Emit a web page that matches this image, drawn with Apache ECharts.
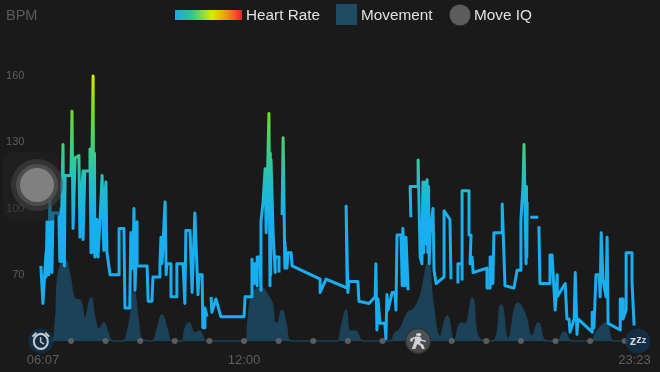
<!DOCTYPE html>
<html>
<head>
<meta charset="utf-8">
<style>
html,body{margin:0;padding:0;background:#1a1a1a;}
#main{width:660px;height:372px;}
</style>
<script src="https://cdn.jsdelivr.net/npm/echarts@6/dist/echarts.min.js"></script>
</head>
<body>
<div id="main"></div>
<script>
// heart rate samples, hours of the day / bpm, null = gap in the recording
var hrTimes = [
    6.13,6.19,6.28,6.28,6.31,6.36,6.39,6.45,6.48,6.65,6.68,6.71,6.73,6.74,6.77,6.79,6.80,6.81,6.83,7.00,7.03,7.06,7.12,7.23,
    7.26,7.29,7.35,7.35,7.40,7.55,7.55,7.58,7.61,7.64,7.66,7.68,7.69,7.75,7.78,7.84,7.90,7.95,7.98,8.01,8.04,8.13,8.39,
    8.39,8.53,8.56,8.70,8.73,8.79,8.79,8.82,8.85,8.91,8.91,9.20,9.23,9.34,9.37,9.57,9.57,9.60,9.63,9.72,
    9.75,9.77,9.89,9.89,10.06,10.06,10.24,10.29,10.32,10.44,10.50,10.58,10.67,10.70,10.79,10.81,10.87,10.87,10.93,10.99,
    11.05,11.07,11.19,11.33,12.00,12.03,12.23,12.23,12.29,12.32,12.38,12.38,12.46,12.49,12.49,12.55,12.61,12.64,12.72,12.75,
    12.76,12.77,12.78,12.84,12.90,12.90,13.01,13.01,13.05,
    13.10,13.13,13.16,13.18,13.18,13.24,13.27,13.36,13.39,14.20,14.20,14.37,14.98,14.95,15.00,15.03,15.29,15.32,15.61,15.79,
    15.81,15.84,15.87,15.93,16.07,16.10,16.13,16.16,16.28,16.36,16.39,16.42,16.54,16.57,16.59,16.65,16.68,16.74,16.78,
    16.82,16.80,17.03,17.03,17.09,17.14,17.17,17.19,17.21,17.23,17.29,17.31,17.33,17.35,17.38,17.46,17.49,17.55,17.78,17.78,17.95,17.98,18.08,
    18.18,18.18,18.30,18.30,18.30,18.50,18.50,18.56,18.53,18.59,18.62,19.02,19.02,19.11,19.11,19.19,19.19,19.22,19.46,19.46,
    19.54,19.80,19.89,20.00,20.00,20.06,20.09,20.15,20.16,20.17,20.18,20.22,
    20.27,20.50,20.51,
    20.52,20.55,20.84,20.84,20.90,20.99,21.05,21.05,21.28,21.33,21.39,21.42,21.54,21.57,21.62,21.65,22.06,22.06,22.11,22.11,
    22.17,22.26,22.29,22.32,22.37,22.37,22.46,22.49,22.52,22.87,22.87,22.95,22.95,23.04,23.04,23.21,23.21,23.27
];
var hrValues = [
    74,57,80,69,94,70,105,71,98,98,76,100,76,108,129,76,110,74,115,115,144,91,123,124,
    87,104,117,86,117,117,127,80,127,160,80,125,78,95,78,95,115,81,106,112,80,70,70,
    91,91,55,55,89,89,73,100,63,94,74,74,58,58,69,69,74,87,75,103,
    70,75,75,60,60,75,75,57,90,90,62,98,61,70,70,46,46,55,51,null,
    60,53,59,51,51,60,60,77,66,75,65,78,78,63,94,103,118,89,143,65,
    125,70,122,89,71,78,78,71,null,
    97,132,97,73,85,73,80,80,74,68,62,68,64,101,62,67,67,58,57,60,
    75,45,59,48,48,41,61,54,62,62,54,88,88,65,91,65,87,63,null,
    96,110,110,122,78,75,112,80,112,84,113,80,110,75,89,100,72,66,69,99,95,68,null,
    66,75,75,68,108,108,88,88,75,78,71,73,64,64,78,78,66,89,89,102,
    65,64,72,72,95,110,129,75,110,78,103,null,
    96,96,null,
    92,66,66,79,79,54,70,60,66,50,50,44,50,71,43,50,44,53,53,46,
    70,70,60,89,89,68,60,87,48,45,59,59,50,54,80,80,67,47
];

// movement, same clock, arbitrary activity units
var moveTimes = [
    6.10,6.39,6.54,6.62,6.83,6.97,7.12,7.26,7.40,7.58,7.69,7.81,7.95,8.07,8.21,8.50,8.62,8.73,8.82,8.94,
    9.05,9.34,9.49,9.63,9.77,9.92,10.21,10.29,10.41,10.58,10.70,10.93,12.03,12.12,12.23,12.52,12.66,12.81,12.90,12.95,
    13.10,13.21,13.36,14.69,14.80,14.95,15.06,15.21,15.44,16.22,16.36,16.51,16.74,16.88,17.09,17.32,17.46,17.66,17.87,18.07,
    18.27,18.39,18.59,18.82,19.19,19.43,19.63,19.92,20.12,20.32,20.50,20.73,21.05,21.25,21.48,22.00,22.20,22.46,22.69,23.38
];
var moveValues = [
    0,0,15,65,81,65,42,41,23,43,23,12,18,8,0,0,8,28,50,22,
    2,0,12,26,13,0,0,12,18,8,10,0,0,22,48,53,47,38,18,18,
    31,18,0,0,12,31,10,10,0,0,8,12,29,31,45,78,38,5,25,0,
    18,17,43,2,0,36,2,38,27,5,18,0,0,9,0,0,10,18,0,0
];

var hourDots = [7,8,9,10,11,12,13,14,15,16,17,18,19,20,21,22,23];
var tickTimes = [6.19,12,23.28];
var tickLabels = ['06:07','12:00','23:23'];
var yTicks = [70,100,130,160];
var wakeTime = 6.13, moveIqTime = 17.03, sleepTime = 23.38;

var clockPath = 'path://M12 4a8 8 0 1 0 0 16a8 8 0 1 0 0-16zM12 6a6 6 0 1 1 0 12a6 6 0 1 1 0-12zM11 8h1.5v4.2l3 1.8-.7 1.1-3.8-2.3zM3 7L7 3.2L8.2 4.4L4.2 8.2zM21 7L17 3.2L15.8 4.4L19.8 8.2z';
var walkPath = 'path://M13 2.5a2 2 0 1 0 .01 0zM11 7L14 7L15.5 11L18.5 12.5L18 14L14.5 12.5L14 15L16.5 18L17.5 23L15.5 23L14.5 19L12 16.5L10.5 23L8 23L10 13L10.3 9.5L8.8 10.5L8.5 13.5L6.7 13.5L7 9.5z';

function pairs(xs, ys) {
    var out = [];
    for (var i = 0; i < xs.length; i++) {
        out.push([xs[i], ys[i]]);
    }
    return out;
}

var myChart = echarts.init(document.getElementById('main'));
var font = '"Liberation Sans", Arial, sans-serif';
var option = {
    backgroundColor: '#1a1a1a',
    animation: false,
    grid: {left: 40.4, right: 22, top: 76, bottom: 31},
    xAxis: {
        type: 'value',
        min: 6.117,
        max: 23.383,
        splitLine: {show: false},
        axisLine: {show: false},
        axisTick: {show: false},
        axisLabel: {
            customValues: tickTimes,
            margin: 13,
            fontSize: 13,
            fontFamily: font,
            color: '#5f5f5f',
            hideOverlap: false,
            formatter: function (v) {
                return tickLabels[tickTimes.indexOf(v)];
            }
        }
    },
    yAxis: [{
        type: 'value',
        min: 40,
        max: 160,
        interval: 30,
        splitLine: {show: false},
        axisLine: {show: false},
        axisTick: {show: false},
        axisLabel: {
            margin: 16,
            fontSize: 11,
            fontFamily: font,
            color: '#5e5e5e',
            formatter: function (v) {
                return yTicks.indexOf(v) >= 0 ? v : '';
            }
        }
    }, {
        type: 'value',
        min: 0,
        max: 265,
        show: false
    }],
    visualMap: {
        show: false,
        type: 'continuous',
        seriesIndex: 1,
        dimension: 1,
        min: 95,
        max: 160,
        inRange: {color: ['#18aef0', '#22bdc8', '#3dce80', '#6fdb28', '#d8e800']}
    },
    series: [{
        name: 'Movement',
        type: 'line',
        yAxisIndex: 1,
        data: pairs(moveTimes, moveValues),
        smooth: 0.5,
        showSymbol: false,
        clip: false,
        z: 1,
        lineStyle: {width: 1.5, color: '#1c4054'},
        areaStyle: {color: '#1c4258', opacity: 1}
    }, {
        name: 'Heart Rate',
        type: 'line',
        data: pairs(hrTimes, hrValues),
        showSymbol: false,
        connectNulls: false,
        clip: false,
        z: 2,
        lineStyle: {width: 3, join: 'round'}
    }, {
        name: 'hours',
        type: 'scatter',
        data: hourDots.map(function (h) { return [h, 40]; }),
        symbolSize: 6,
        clip: false,
        z: 3,
        itemStyle: {color: '#6a6a6a'}
    }, {
        name: 'wake',
        type: 'scatter',
        data: [[wakeTime, 40]],
        symbolSize: 25,
        clip: false,
        z: 4,
        itemStyle: {color: '#12324c'}
    }, {
        name: 'wakeIcon',
        type: 'scatter',
        data: [[wakeTime, 40]],
        symbol: clockPath,
        symbolSize: 18,
        clip: false,
        z: 5,
        itemStyle: {color: '#f2f2f2'}
    }, {
        name: 'sleep',
        type: 'scatter',
        data: [[sleepTime, 40]],
        symbolSize: 25,
        clip: false,
        z: 4,
        itemStyle: {color: '#12324c'},
        label: {
            show: true,
            position: 'inside',
            formatter: '{a|z}{b|z}{c|z}',
            rich: {
                a: {fontSize: 13, fontWeight: 'bold', color: '#fff', fontFamily: font},
                b: {fontSize: 11, fontWeight: 'bold', color: '#fff', fontFamily: font, padding: [0, 0, 3, 0]},
                c: {fontSize: 9, fontWeight: 'bold', color: '#fff', fontFamily: font}
            }
        }
    }, {
        name: 'moveIq',
        type: 'scatter',
        data: [[moveIqTime, 40]],
        symbolSize: 25,
        clip: false,
        z: 4,
        itemStyle: {color: '#565656', borderColor: '#2e2e2e', borderWidth: 1.5}
    }, {
        name: 'moveIqIcon',
        type: 'scatter',
        data: [[moveIqTime, 40]],
        symbol: walkPath,
        symbolSize: 16,
        clip: false,
        z: 5,
        itemStyle: {color: '#f2f2f2'}
    }],
    graphic: [
        {type: 'text', left: 6, top: 8, style: {text: 'BPM', fontSize: 14.5, fontFamily: font, fill: '#5a5a5a'}},
        // legend
        {
            type: 'rect', shape: {x: 175, y: 10, width: 67, height: 10},
            style: {fill: new echarts.graphic.LinearGradient(0, 0, 1, 0, [
                {offset: 0, color: '#18a8e8'},
                {offset: 0.25, color: '#2cc88a'},
                {offset: 0.55, color: '#d6ee00'},
                {offset: 0.8, color: '#f58a10'},
                {offset: 1, color: '#f01c30'}
            ])}
        },
        {type: 'text', left: 246, top: 8, style: {text: 'Heart Rate', fontSize: 15.3, fontFamily: font, fill: '#e2e2e2'}},
        {type: 'rect', shape: {x: 336, y: 4, width: 21, height: 21}, style: {fill: '#1f4a63'}},
        {type: 'text', left: 361, top: 8, style: {text: 'Movement', fontSize: 15.3, fontFamily: font, fill: '#e2e2e2'}},
        {type: 'circle', shape: {cx: 460, cy: 15, r: 10.5}, style: {fill: '#5c5c5c'}},
        {type: 'text', left: 474, top: 8, style: {text: 'Move IQ', fontSize: 15.3, fontFamily: font, fill: '#e2e2e2'}},
        // the slider knob sitting over the left of the plot
        {type: 'rect', z: 20, shape: {x: 3, y: 152, width: 57, height: 69, r: 10}, style: {fill: 'rgba(34,34,34,0.5)'}},
        {type: 'circle', z: 21, shape: {cx: 37, cy: 185, r: 26}, style: {fill: 'rgba(70,70,70,0.55)'}},
        {type: 'circle', z: 22, shape: {cx: 37, cy: 185, r: 21}, style: {fill: 'rgba(80,80,80,0.9)'}},
        {type: 'circle', z: 23, shape: {cx: 37, cy: 185, r: 17}, style: {fill: '#808080'}}
    ]
};
myChart.setOption(option);
window.addEventListener("resize", function () {
    myChart.resize();
});
</script>
</body>
</html>
